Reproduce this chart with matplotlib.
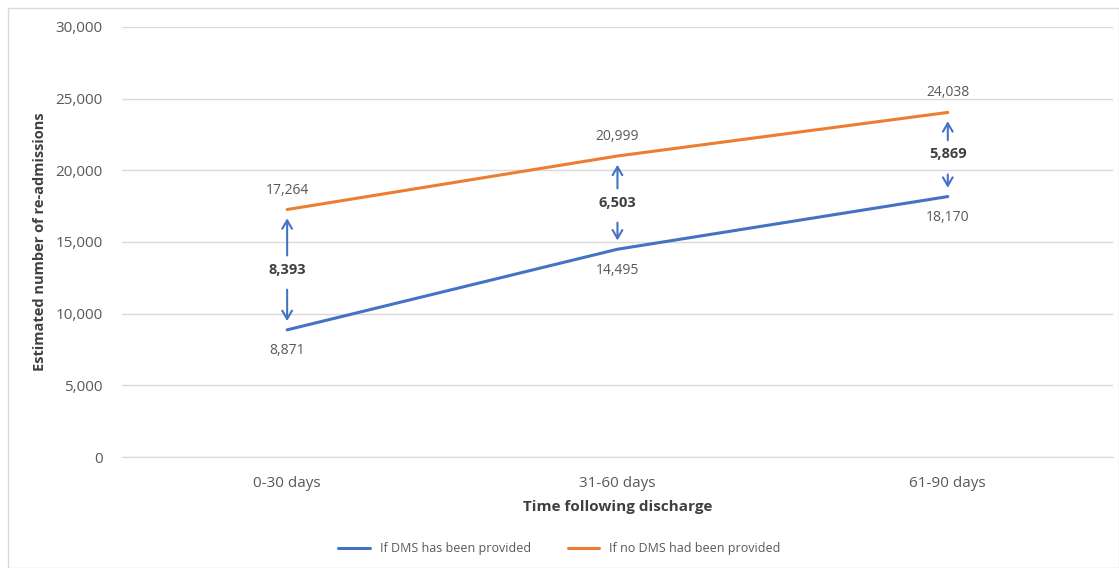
import numpy as np
from matplotlib import pyplot as plt
from matplotlib.patches import Rectangle

plt.rcParams['font.family'] = ['Open Sans', 'DejaVu Sans']

categories = ["0-30 days", "31-60 days", "61-90 days"]
with_dms = [8871, 14495, 18170]
without_dms = [17264, 20999, 24038]
differences = [8393, 6503, 5869]

blue = '#4472C4'
orange = '#ED7D31'
grey_text = '#595959'

fig = plt.figure(figsize=(11.19, 5.68), dpi=100)
ax = fig.add_axes([0.109, 0.1954, 0.8856, 0.7571])

x = np.arange(len(categories))
ax.plot(x, with_dms, color=blue, lw=2.2, solid_capstyle='round', label="If DMS has been provided")
ax.plot(x, without_dms, color=orange, lw=2.2, solid_capstyle='round', label="If no DMS had been provided")

# value labels
for xi, lo, hi in zip(x, with_dms, without_dms):
    ax.annotate(f"{hi:,}", (xi, hi), xytext=(0, 14), textcoords='offset points',
                ha='center', va='center', fontsize=10, color=grey_text)
    ax.annotate(f"{lo:,}", (xi, lo), xytext=(0, -15), textcoords='offset points',
                ha='center', va='center', fontsize=10, color=grey_text)

# difference labels with double arrows
for xi, lo, hi, d in zip(x, with_dms, without_dms, differences):
    mid = (lo + hi) / 2
    ax.text(xi, mid, f"{d:,}", ha='center', va='center', fontsize=10.5,
            fontweight='bold', color='#404040')
    gap = 800
    pad = 420
    ax.annotate("", xy=(xi, hi - pad), xytext=(xi, mid + gap),
                arrowprops=dict(arrowstyle='->,head_length=0.6,head_width=0.35',
                                color=blue, lw=1.5))
    ax.annotate("", xy=(xi, lo + pad), xytext=(xi, mid - gap - 400),
                arrowprops=dict(arrowstyle='->,head_length=0.6,head_width=0.35',
                                color=blue, lw=1.5))

ax.set_xlim(-0.5, 2.5)
ax.set_ylim(0, 30000)
ax.set_yticks(np.arange(0, 30001, 5000))
ax.yaxis.set_major_formatter(plt.FuncFormatter(lambda v, p: f"{int(v):,}"))
ax.set_xticks(x)
ax.set_xticklabels(categories)
ax.grid(axis='y', color='#d9d9d9', lw=1)
ax.set_axisbelow(True)
for s in ax.spines.values():
    s.set_visible(False)
ax.spines['bottom'].set_visible(True)
ax.spines['bottom'].set_color('#d9d9d9')
ax.tick_params(length=0, labelsize=11, labelcolor=grey_text)
ax.tick_params(axis='x', pad=14)
ax.tick_params(axis='y', pad=14)

ax.set_xlabel("Time following discharge", fontsize=11, fontweight='bold',
              color='#404040', labelpad=6)
ax.set_ylabel("Estimated number of re-admissions", fontsize=10.5, fontweight='bold',
              color='#404040', labelpad=6)

fig.legend(loc='center', bbox_to_anchor=(0.5, 0.034), ncol=2, frameon=False,
           fontsize=9, handlelength=2.5, columnspacing=3, labelcolor=grey_text)

fig.patches.append(Rectangle((0.007, 0.0), 0.993, 0.986, transform=fig.transFigure,
                             fill=False, edgecolor='#d9d9d9', lw=1))

fig.savefig('out.png', dpi=100)
